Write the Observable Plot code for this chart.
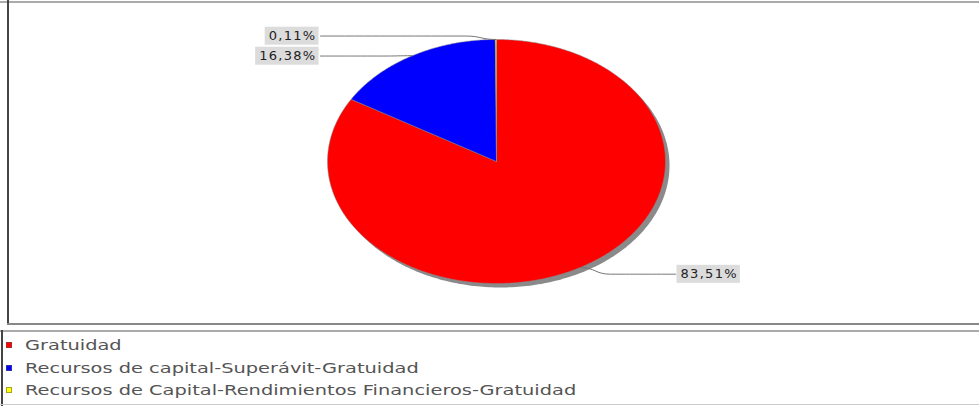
<!DOCTYPE html>
<html>
<head>
<meta charset="utf-8">
<script src="https://cdn.jsdelivr.net/npm/d3@7"></script>
<script src="https://cdn.jsdelivr.net/npm/@observablehq/plot@0.6"></script>
<style>
  html, body { margin: 0; padding: 0; background: #fff; }
  #wrap { position: relative; width: 979px; height: 406px; overflow: hidden; font-family: "DejaVu Sans", sans-serif; }
  #chart { position: absolute; left: 0; top: 0; }
  .ln { position: absolute; }
  .item { position: absolute; left: 6px; height: 18px; display: flex; align-items: center; white-space: nowrap; }
  .sw { width: 6px; height: 6px; box-sizing: border-box; border: 1px solid rgba(90,90,90,0.55); }
  .tx { display: inline-block; margin-left: 13px; font-size: 14px; color: #555; transform: scaleX(1.385); transform-origin: left center; }
</style>
</head>
<body>
<div id="wrap">
  <div id="chart"></div>
  <div class="ln" style="left:0;top:1px;width:979px;height:2px;background:#aaa"></div>
  <div class="ln" style="left:7px;top:0;width:2px;height:325px;background:#444"></div>
  <div class="ln" style="left:7px;top:323px;width:972px;height:2px;background:#888"></div>
  <div class="ln" style="left:0;top:330px;width:979px;height:2px;background:#aaa"></div>
  <div class="ln" style="left:1px;top:330px;width:2px;height:76px;background:#444"></div>
  <div class="ln" style="left:0;top:404px;width:979px;height:1px;background:#ccc"></div>
  <div id="legend"></div>
</div>
<script>
// ---- data ----
const categories = [
  "Gratuidad",
  "Recursos de capital-Superávit-Gratuidad",
  "Recursos de Capital-Rendimientos Financieros-Gratuidad"
];
const percentages = [83.51, 16.38, 0.11];
const percentLabels = ["83,51%", "16,38%", "0,11%"];
const sliceColors = ["#ff0000", "#0000ff", "#ffff00"];

// ---- layout constants ----
const W = 979, H = 326;
const cx = 496, cy = 161, rx = 169, ry = 122;

const rows = categories.map((c, i) => ({category: c, value: percentages[i], label: percentLabels[i]}));
const arcs = d3.pie().sort(null).value(d => d.value).startAngle(0).endAngle(2 * Math.PI)(rows);

// slice polygons in unit-circle data space (y up)
const slicePts = [];
arcs.forEach(a => {
  const c = a.data.category;
  slicePts.push({x: 0, y: 0, category: c});
  const steps = Math.max(2, Math.ceil((a.endAngle - a.startAngle) / (Math.PI / 360)));
  for (let k = 0; k <= steps; k++) {
    const t = a.startAngle + (a.endAngle - a.startAngle) * k / steps;
    slicePts.push({x: Math.sin(t), y: Math.cos(t), category: c});
  }
  slicePts.push({x: 0, y: 0, category: c});
});
const shadowPts = d3.range(0, 361).map(k => {
  const t = k * Math.PI / 180;
  return {x: Math.sin(t), y: Math.cos(t)};
});

// label placement
const labelRows = arcs.map(a => {
  const mid = (a.startAngle + a.endAngle) / 2;
  const ax = Math.sin(mid), ay = Math.cos(mid);
  return {category: a.data.category, label: a.data.label, ax, ay, side: ax < 0 ? "left" : "right",
          py: cy - ay * 1.03 * ry + 3.5};
});
["left", "right"].forEach(side => {
  const L = labelRows.filter(d => d.side === side).sort((a, b) => b.py - a.py);
  for (let i = 1; i < L.length; i++) {
    if (L[i - 1].py - L[i].py < 20) L[i].py = L[i - 1].py - 20;
  }
});
labelRows.forEach(d => { d.ly = (cy - d.py) / ry; });

const linkPts = [];
labelRows.forEach(d => {
  const edgeX = d.side === "left" ? -1 - 7 / rx : 1 + 10 / rx;
  const elbowX = d.side === "left" ? d.ax - 30 / rx : d.ax + 30 / rx;
  linkPts.push({x: edgeX, y: d.ly, category: d.category});
  linkPts.push({x: elbowX, y: d.ly, category: d.category});
  linkPts.push({x: d.ax, y: d.ay, category: d.category});
});

const chart = Plot.plot({
  width: W, height: H,
  marginLeft: cx - rx, marginRight: W - (cx + rx),
  marginTop: cy - ry, marginBottom: H - (cy + ry),
  x: {domain: [-1, 1], axis: null},
  y: {domain: [-1, 1], axis: null},
  color: {domain: categories, range: sliceColors},
  style: {background: "transparent", fontFamily: "DejaVu Sans", overflow: "visible", letterSpacing: "1.3px"},
  marks: [
    Plot.line(shadowPts, {x: "x", y: "y", fill: "#8a8a8a", stroke: "none", dx: 4, dy: 4}),
    Plot.line(slicePts, {x: "x", y: "y", z: "category", fill: "category", stroke: "#888", strokeWidth: 0.5}),
    Plot.line(linkPts, {x: "x", y: "y", z: "category", curve: "bump-x", stroke: "#777", strokeWidth: 1}),
    Plot.text(labelRows.filter(d => d.side === "left"), {x: () => -1, y: "ly", text: "label", textAnchor: "end", dx: -11, fontSize: 13, fill: "#222"}),
    Plot.text(labelRows.filter(d => d.side === "right"), {x: () => 1, y: "ly", text: "label", textAnchor: "start", dx: 15, fontSize: 13, fill: "#222"})
  ]
});
document.getElementById("chart").appendChild(chart);

// light gray boxes behind the percentage labels
chart.querySelectorAll("text").forEach(t => {
  const b = t.getBBox();
  const r = document.createElementNS("http://www.w3.org/2000/svg", "rect");
  r.setAttribute("x", b.x - 4);
  r.setAttribute("y", b.y - 1.5);
  r.setAttribute("width", b.width + 6);
  r.setAttribute("height", b.height + 3);
  r.setAttribute("fill", "#dcdcdc");
  const tr = t.getAttribute("transform");
  if (tr) r.setAttribute("transform", tr);
  t.parentNode.insertBefore(r, t);
});

// legend
const legend = document.getElementById("legend");
const legendTops = [345, 368, 390];
categories.forEach((c, i) => {
  const item = document.createElement("div");
  item.className = "item";
  item.style.top = (legendTops[i] - 9) + "px";
  const sw = document.createElement("span");
  sw.className = "sw";
  sw.style.background = sliceColors[i];
  const tx = document.createElement("span");
  tx.className = "tx";
  tx.textContent = c;
  item.appendChild(sw);
  item.appendChild(tx);
  legend.appendChild(item);
});
</script>
</body>
</html>
